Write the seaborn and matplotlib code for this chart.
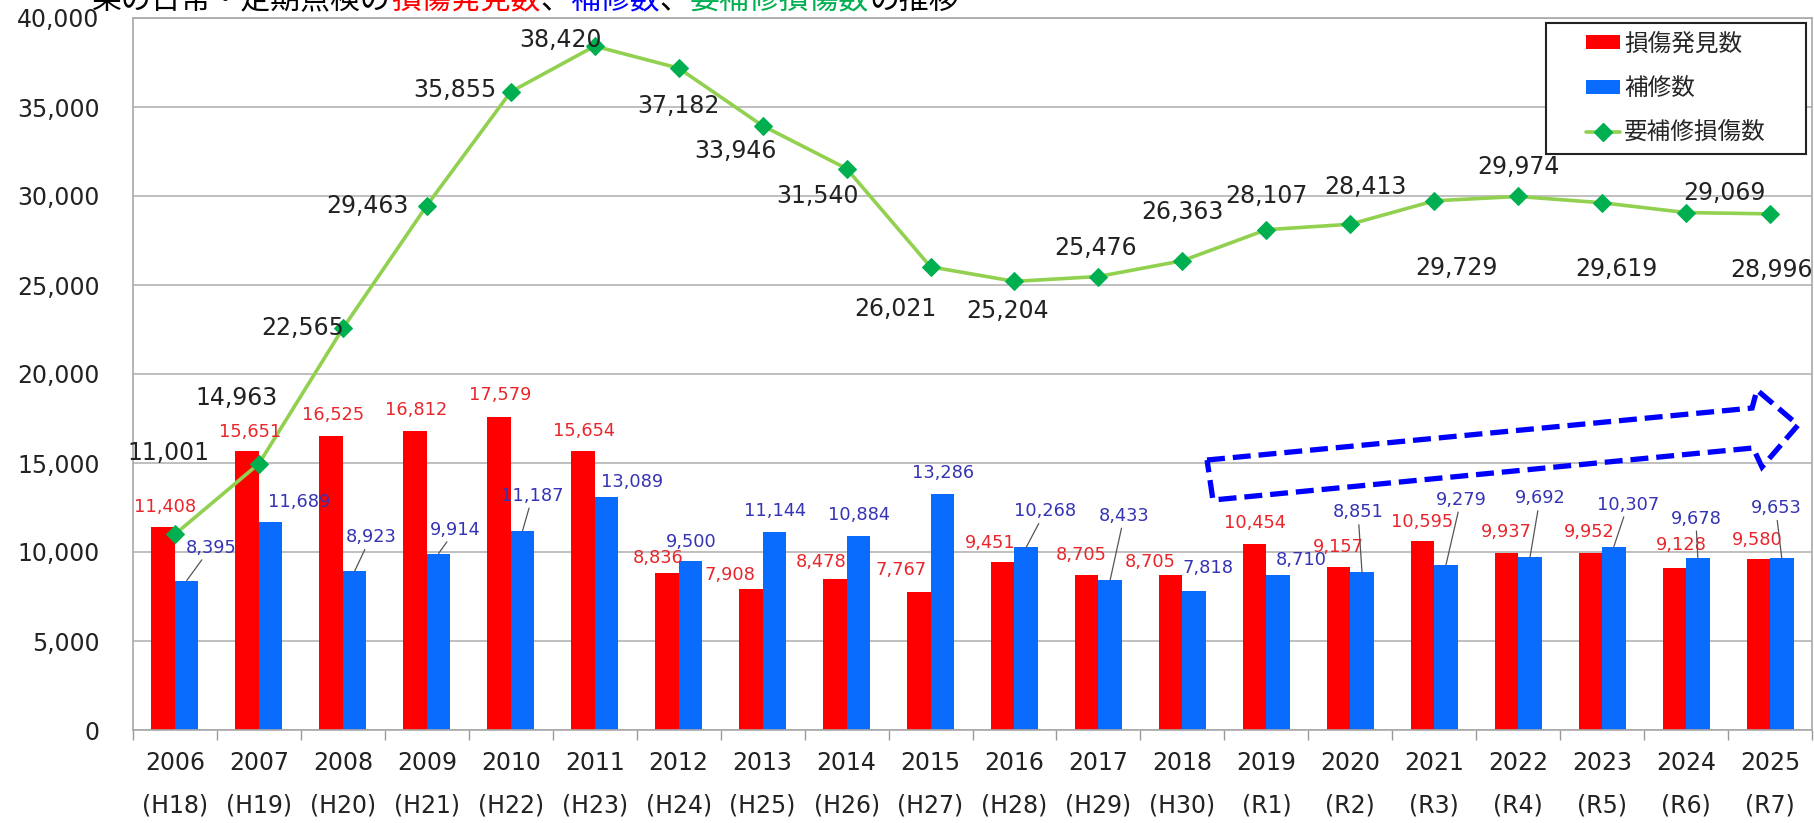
import numpy as np
import pandas as pd
import matplotlib
matplotlib.use('Agg')
import matplotlib.pyplot as plt
from matplotlib.patches import Polygon, Patch, Rectangle
from matplotlib.lines import Line2D
from matplotlib.ticker import StrMethodFormatter, FixedLocator
import seaborn as sns

# data
years = ['2006', '2007', '2008', '2009', '2010', '2011', '2012', '2013', '2014', '2015',
         '2016', '2017', '2018', '2019', '2020', '2021', '2022', '2023', '2024', '2025']
eras = ['(H18)', '(H19)', '(H20)', '(H21)', '(H22)', '(H23)', '(H24)', '(H25)', '(H26)', '(H27)',
        '(H28)', '(H29)', '(H30)', '(R1)', '(R2)', '(R3)', '(R4)', '(R5)', '(R6)', '(R7)']
found = [11408, 15651, 16525, 16812, 17579, 15654, 8836, 7908, 8478, 7767,
         9451, 8705, 8705, 10454, 9157, 10595, 9937, 9952, 9128, 9580]
repaired = [8395, 11689, 8923, 9914, 11187, 13089, 9500, 11144, 10884, 13286,
            10268, 8433, 7818, 8710, 8851, 9279, 9692, 10307, 9678, 9653]
needing = [11001, 14963, 22565, 29463, 35855, 38420, 37182, 33946, 31540, 26021,
           25204, 25476, 26363, 28107, 28413, 29729, 29974, 29619, 29069, 28996]
series = ['損傷発見数', '補修数', '要補修損傷数']

# label offsets in pixels (dx, dy)
red_off = [(2, 20), (3, 19), (2, 21), (1, 21), (1, 22), (1, 20), (-9, 15), (-21, 14), (-14, 17), (-18, 22),
           (-12, 19), (-5, 20), (-20, 13), (0, 21), (0, 20), (0, 19), (0, 21), (-1, 21), (7, 23), (-1, 19)]
blue_off = [(24, 33), (28, 20), (16, 34), (17, 24), (10, 35), (26, 15), (1, 19), (1, 21), (1, 21), (1, 21),
            (19, 36), (14, 64), (14, 23), (23, 15), (-4, 60), (15, 65), (10, 59), (14, 42), (-2, 39), (-6, 50)]
blue_lead = [1, 0, 1, 1, 1, 0, 0, 0, 0, 0, 1, 1, 0, 0, 1, 1, 1, 1, 1, 1]
line_off = [(-7, 81), (-22, 66), (-40, 0), (-59, 0), (-56, 2), (-34, 6), (0, -38), (-27, -25), (-29, -27), (-35, -42),
            (-7, -30), (-3, 29), (0, 49), (0, 34), (15, 37), (22, -67), (0, 29), (14, -66), (38, 20), (1, -56)]

RED = '#FF0000'
BLUE = '#0A6CFF'
RED_TXT = '#E8262B'
BLUE_TXT = '#3434B4'
LINE = '#92D050'
MARK = '#00B050'
GRID = '#B4B4B4'

sns.set_style('white')
plt.rcParams['font.family'] = ['DejaVu Sans', 'Noto Sans CJK JP']

fig = plt.figure(figsize=(18.14, 8.23), dpi=100)
ax = fig.add_axes([133 / 1814, 93 / 823, 1679 / 1814, 712 / 823])

df = pd.DataFrame({
    '年度': years * 2,
    '件数': found + repaired,
    '区分': [series[0]] * len(years) + [series[1]] * len(years),
})
sns.barplot(data=df, x='年度', y='件数', hue='区分', palette=[RED, BLUE], width=0.56, gap=0,
            saturation=1, linewidth=0, legend=False, ax=ax)
sns.lineplot(x=years, y=needing, sort=False, color=LINE, lw=2.6, marker='D', markersize=9.5,
             markerfacecolor=MARK, markeredgecolor=MARK, ax=ax)

ax.set_xlim(-0.5, len(years) - 0.5)
ax.set_ylim(0, 40000)
ax.set_yticks(np.arange(0, 40001, 5000))
ax.yaxis.set_major_formatter(StrMethodFormatter('{x:,.0f}'))
ax.set_xticks(range(len(years)))
ax.set_xticklabels([f'{y}\n{e}' for y, e in zip(years, eras)])
for lab in ax.get_xticklabels():
    lab.set_linespacing(2.0)
ax.xaxis.set_minor_locator(FixedLocator(np.arange(-0.5, len(years), 1)))
ax.tick_params(axis='x', which='major', length=0, pad=15, labelsize=17, colors='#222222')
ax.tick_params(axis='x', which='minor', length=7, width=1, color='#999999', direction='out', bottom=True)
ax.tick_params(axis='y', length=0, pad=24, labelsize=17, colors='#222222')
ax.set_xlabel('')
ax.set_ylabel('')
ax.grid(axis='y', color=GRID, lw=1.2)
ax.set_axisbelow(True)
for side in ['left', 'bottom', 'right', 'top']:
    ax.spines[side].set_visible(True)
    ax.spines[side].set_color('#A8A8A8')
    ax.spines[side].set_linewidth(1.2)

# bar labels
for bar, v, (dx, dy) in zip(ax.containers[0], found, red_off):
    cx = bar.get_x() + bar.get_width() / 2
    ax.annotate(f'{v:,}', (cx, bar.get_height()), xytext=(dx, dy), textcoords='offset pixels',
                ha='center', va='center', fontsize=12.8, color=RED_TXT)
for bar, v, (dx, dy), lead in zip(ax.containers[1], repaired, blue_off, blue_lead):
    cx = bar.get_x() + bar.get_width() / 2
    arrow = dict(arrowstyle='-', color='#555555', lw=0.9, shrinkA=0, shrinkB=0) if lead else None
    ax.annotate(f'{v:,}', (cx, bar.get_height()), xytext=(dx, dy), textcoords='offset pixels',
                ha='center', va='center', fontsize=12.8, color=BLUE_TXT, arrowprops=arrow)

# line labels
for i, (v, (dx, dy)) in enumerate(zip(needing, line_off)):
    ax.annotate(f'{v:,}', (i, v), xytext=(dx, dy), textcoords='offset pixels',
                ha='center', va='center', fontsize=17, color='#222222')

# dashed trend arrow
arrow_pts = [(0.6397, 0.3792), (0.9643, 0.4522), (0.9672, 0.4775), (0.9917, 0.4284),
             (0.9702, 0.3694), (0.9649, 0.3961), (0.6432, 0.3230)]
ax.add_patch(Polygon(arrow_pts, closed=True, fill=False, edgecolor='#0000FF', lw=3.8,
                     linestyle=(0, (3.4, 1.5)), transform=ax.transAxes, clip_on=False, zorder=5))

# legend with its own frame
ax.add_patch(Rectangle((0.8416, 0.809), 0.1548, 0.184, transform=ax.transAxes, facecolor='white',
                       edgecolor='#222222', lw=1.5, zorder=6, clip_on=False))
handles = [Patch(facecolor=RED, edgecolor='none'), Patch(facecolor=BLUE, edgecolor='none'),
           Line2D([0], [0], color=LINE, lw=2.6, marker='D', markersize=9.5,
                  markerfacecolor=MARK, markeredgecolor=MARK)]
leg = ax.legend(handles, series, loc='center', bbox_to_anchor=(0.919, 0.901), frameon=False,
                prop={'family': ['Noto Sans CJK JP'], 'size': 17}, handlelength=1.45, handleheight=0.55,
                handletextpad=0.15, labelspacing=0.9, borderpad=0)
leg.set_zorder(7)

# clipped title at the very top, coloured in parts
title_parts = [('損傷発見数', '#FF0000'), ('、', '#000000'), ('補修数', '#0000FF'), ('、', '#000000'),
               ('要補修損傷数', '#00B050'), ('の推移', '#000000')]
ty = 1 - 9 / 823
fig.text(391 / 1814, ty, '果の日常・定期点検の', ha='right', va='baseline', fontsize=21.5,
         family=['Noto Sans CJK JP'], color='#000000')
renderer = fig.canvas.get_renderer()
x = 391 / 1814
for txt, col in title_parts:
    t = fig.text(x, ty, txt, ha='left', va='baseline', fontsize=21.5, family=['Noto Sans CJK JP'], color=col)
    bb = t.get_window_extent(renderer=renderer)
    x += bb.width / fig.bbox.width

fig.savefig('out.png', dpi=100)
